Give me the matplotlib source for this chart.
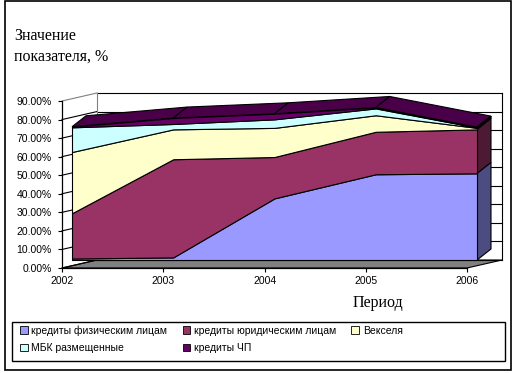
import numpy as np
import matplotlib
matplotlib.use("Agg")
import matplotlib.pyplot as plt
from matplotlib.patches import Patch, Polygon, Rectangle

# data (share of portfolio, %)
years = [2002, 2003, 2004, 2005, 2006]
labels = ["кредиты физическим лицам", "кредиты юридическим лицам", "Векселя",
          "МБК размещенные", "кредиты ЧП"]
fiz = [0.8, 1.4, 33.2, 46.2, 46.7]
yur = [24.4, 52.9, 22.3, 22.9, 23.7]
veks = [33.0, 16.1, 15.7, 8.9, 0.8]
mbk = [13.3, 2.9, 4.6, 3.7, 0.2]
chp = [0.3, 3.2, 3.0, 0.5, 0.2]
yticks = [0, 10, 20, 30, 40, 50, 60, 70, 80, 90]

front_colors = ["#9999FF", "#993366", "#FFFFCC", "#CCFFFF", "#660066"]
side_colors = ["#4C4C80", "#4C1A33", "#7F7F66", "#667F7F", "#330033"]
top_color = "#4A0048"

W, H = 516, 373
fig = plt.figure(figsize=(W / 100, H / 100), dpi=100)

# axes frame in pixels (left, top of 90%, right, 0%)
ax_l, ax_r, ax_t, ax_b = 62, 467, 101, 268
ax = fig.add_axes([ax_l / W, 1 - ax_b / H, (ax_r - ax_l) / W, (ax_b - ax_t) / H])
ax.set_xlim(years[0], years[-1])
ax.set_ylim(0, 90)
ax.patch.set_visible(False)

px_x = (ax_r - ax_l) / (years[-1] - years[0])   # pixels per year
px_y = (ax_b - ax_t) / 90.0                       # pixels per percent


def off(dx, dy):
    return dx / px_x, dy / px_y


wx, wy = off(35, 8)    # back wall
fx, fy = off(10, 8)    # front face of the series
dx, dy = off(14, 11)   # depth of the series

x = np.array(years, dtype=float)
x0, x1 = x[0], x[-1]

# floor
floor = Polygon([(x0, 0), (x1, 0), (x1 + wx, wy), (x0 + wx, wy)], closed=True,
                facecolor="#808080", edgecolor="black", lw=0.8, clip_on=False, zorder=1)
ax.add_patch(floor)

# back wall and side wall gridlines
for v in yticks:
    ax.plot([x0 + wx, x1 + wx], [v + wy, v + wy], color="black", lw=0.8,
            clip_on=False, zorder=1)
    ax.plot([x0, x0 + wx], [v, v + wy], color="gray" if v == 90 else "black",
            lw=0.8, clip_on=False, zorder=1)
ax.plot([x0 + wx, x0 + wx], [wy, 90 + wy], color="gray", lw=0.8, clip_on=False, zorder=1)
ax.plot([x1 + wx, x1 + wx], [wy, 90 + wy], color="black", lw=0.8, clip_on=False, zorder=1)

series = [fiz, yur, veks, mbk, chp]
tops = np.cumsum(np.array(series, dtype=float), axis=0)
bottoms = np.vstack([np.zeros(len(years)), tops[:-1]])

# front faces
for i in range(len(series)):
    ax.fill_between(x + fx, bottoms[i] + fy, tops[i] + fy, facecolor=front_colors[i],
                    edgecolor="black", lw=0.8, clip_on=False, zorder=3)

# top surface of the stack
top = tops[-1]
for k in range(len(years) - 1):
    quad = [(x[k] + fx, top[k] + fy), (x[k + 1] + fx, top[k + 1] + fy),
            (x[k + 1] + fx + dx, top[k + 1] + fy + dy), (x[k] + fx + dx, top[k] + fy + dy)]
    ax.add_patch(Polygon(quad, closed=True, facecolor=top_color, edgecolor="black",
                         lw=0.8, clip_on=False, zorder=2))

# right side faces
xr = x1 + fx
for i in range(len(series)):
    lo, hi = bottoms[i][-1] + fy, tops[i][-1] + fy
    quad = [(xr, lo), (xr, hi), (xr + dx, hi + dy), (xr + dx, lo + dy)]
    ax.add_patch(Polygon(quad, closed=True, facecolor=side_colors[i], edgecolor="black",
                         lw=0.8, clip_on=False, zorder=2))

# axes styling
for s in ["top", "right"]:
    ax.spines[s].set_visible(False)
for s in ["left", "bottom"]:
    ax.spines[s].set_linewidth(0.9)
    ax.spines[s].set_zorder(4)
ax.set_xticks(years)
ax.set_xticklabels([str(y) for y in years])
ax.set_yticks(yticks)
ax.set_yticklabels([f"{v:.2f}%" for v in yticks])
ax.tick_params(axis="both", direction="out", length=3, width=0.8, labelsize=7.5, pad=3)
ax.tick_params(axis="y", pad=4.5)
for t in ax.get_xticklabels() + ax.get_yticklabels():
    t.set_fontfamily("Liberation Sans")

# titles
fig.text(14 / W, 1 - 28 / H, "Значение\nпоказателя, %", fontsize=11.5,
         family="Liberation Serif", va="top", ha="left", linespacing=1.38)
fig.text(353 / W, 1 - 303 / H, "Период", fontsize=11.5, family="Liberation Serif",
         va="center", ha="left")

# legend
handles = [Patch(facecolor=c, edgecolor="black", lw=0.6) for c in front_colors]
order = [0, 3, 1, 4, 2]
fig.legend([handles[i] for i in order], [labels[i] for i in order], ncol=3,
           loc="upper left", bbox_to_anchor=(20 / W, 1 - 325 / H), frameon=False,
           prop={"family": "Liberation Sans", "size": 7.5}, handlelength=0.75,
           handleheight=0.75, handletextpad=0.35, columnspacing=1.45, labelspacing=0.75,
           borderpad=0, borderaxespad=0)
fig.add_artist(Rectangle((12 / W, 1 - 361 / H), 493 / W, 39 / H, transform=fig.transFigure,
                         fill=False, edgecolor="black", lw=1))

# outer border
fig.add_artist(Rectangle((5 / W, 1 - 370 / H), 506 / W, 369 / H, transform=fig.transFigure,
                         fill=False, edgecolor="black", lw=1.2))

fig.savefig("out.png", dpi=100)
